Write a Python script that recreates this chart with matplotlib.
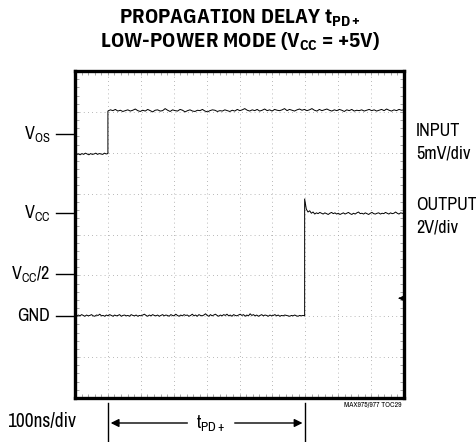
import numpy as np
import matplotlib.pyplot as plt
import matplotlib.transforms as mtransforms

plt.rcParams["font.family"] = ["Archivo Narrow", "Liberation Sans", "DejaVu Sans"]
plt.rcParams["mathtext.fontset"] = "custom"
plt.rcParams["mathtext.rm"] = "Archivo Narrow"
plt.rcParams["mathtext.bf"] = "IBM Plex Sans Condensed:bold"
plt.rcParams["mathtext.it"] = "Archivo Narrow:italic"
TITLE_FONT = ["IBM Plex Sans Condensed", "Barlow Condensed", "Liberation Sans"]

# scope screen: 10 x 8 divisions
n_xdiv = 10
n_ydiv = 8

# input trace (divisions), step at t = 1.0 div
in_step = 1.0
in_low = [5.98, 5.96, 5.97, 5.95, 5.98, 5.96, 5.99, 5.97, 5.95, 5.98,
          5.96, 5.97, 5.99, 5.96, 5.98, 5.97, 5.96, 5.99, 5.97, 5.98]
in_high = [7.02, 7.05, 7.03, 7.06, 7.02, 7.04, 7.01, 7.03, 7.05, 7.02,
           7.04, 7.07, 7.03, 7.01, 7.04, 7.02, 7.06, 7.03, 7.00, 7.04,
           7.05, 7.02, 7.03, 7.08, 7.04, 7.01, 7.05, 7.03, 7.02, 7.06,
           7.04, 7.00, 7.03, 7.05, 7.02, 7.01, 7.04, 7.03, 7.06, 7.02,
           7.00, 7.03, 7.05, 7.04, 7.01, 7.03, 7.02, 7.05, 7.03, 7.01,
           7.04, 7.02, 7.06, 7.03, 7.05, 7.08, 7.04, 7.02, 7.05, 7.03,
           7.06, 7.02, 7.04, 7.07, 7.03, 7.05, 7.02, 7.06, 7.04, 7.03,
           7.05, 7.08, 7.03, 7.06, 7.04, 7.02, 7.05, 7.07, 7.04, 7.06,
           7.03, 7.05, 7.08, 7.04, 7.02, 7.06, 7.03, 7.05, 7.07, 7.04,
           7.02, 7.05, 7.03, 7.06, 7.04, 7.01, 7.05, 7.03, 7.06, 7.02,
           7.04, 7.03, 7.05, 7.02, 7.04, 7.06, 7.03, 7.05, 7.02, 7.04,
           7.06, 7.03, 7.07, 7.04, 7.02, 7.05, 7.03, 7.06, 7.04, 7.05]

# output trace (divisions), step at t = 7.0 div
out_step = 6.98
out_low = [2.02, 2.00, 2.03, 2.01, 2.04, 2.02, 2.00, 2.03, 2.01, 2.02,
           2.04, 2.01, 2.00, 2.03, 2.02, 2.05, 2.01, 2.02, 2.00, 2.03,
           2.01, 2.04, 2.02, 2.00, 2.03, 2.01, 2.02, 2.04, 2.00, 2.02,
           2.03, 2.01, 2.02, 2.00, 2.04, 2.02, 2.01, 2.03, 2.00, 2.02,
           2.01, 2.03, 2.05, 2.02, 2.00, 2.03, 2.01, 2.04, 2.02, 2.01,
           2.03, 2.00, 2.02, 2.04, 2.01, 2.03, 2.02, 2.00, 2.04, 2.02,
           2.01, 2.05, 2.02, 2.00, 2.03, 2.01, 2.04, 2.02, 2.03, 2.00,
           2.02, 2.05, 2.01, 2.03, 2.00, 2.04, 2.02, 2.01, 2.03, 2.06,
           2.02, 2.00, 2.04, 2.01, 2.03, 2.05, 2.02, 2.00, 2.03, 2.01,
           2.04, 2.02, 2.05, 2.01, 2.03, 2.00, 2.04, 2.02, 2.01, 2.03,
           2.05, 2.02, 2.04, 2.00, 2.03, 2.01, 2.06, 2.02, 2.04, 2.01,
           2.03, 2.00, 2.02, 2.04, 2.01, 2.03, 2.02, 2.00, 2.03, 2.01,
           2.02, 2.04, 2.01, 2.03, 2.00, 2.02, 2.01, 2.03, 2.02, 2.01,
           2.00, 2.02, 2.01, 2.03, 2.01, 2.00, 2.02, 2.01, 2.02, 2.01]
out_high = [4.87, 4.62, 4.55, 4.58, 4.52, 4.55, 4.50, 4.53, 4.51, 4.54,
            4.52, 4.50, 4.53, 4.51, 4.49, 4.52, 4.54, 4.51, 4.53, 4.50,
            4.52, 4.49, 4.51, 4.53, 4.50, 4.52, 4.54, 4.51, 4.49, 4.52,
            4.50, 4.53, 4.55, 4.51, 4.52, 4.50, 4.53, 4.51, 4.49, 4.52,
            4.54, 4.51, 4.50, 4.52, 4.53, 4.50, 4.52, 4.51, 4.54, 4.52,
            4.50, 4.53, 4.51, 4.52, 4.55, 4.52, 4.50, 4.53, 4.52, 4.51]

# left-side level markers (divisions)
marker_labels = [r"V$_{\mathrm{OS}}$", r"V$_{\mathrm{CC}}$", r"V$_{\mathrm{CC}}$/2", "GND"]
marker_levels = [6.45, 4.52, 3.03, 2.0]

# right-side channel labels
chan_labels = ["INPUT", "5mV/div", "OUTPUT", "2V/div"]
chan_levels = [6.53, 5.99, 4.72, 4.18]

ground_mark = 2.44
tpd_start = 1.0
tpd_end = 7.0


def trace(lo, hi, t_step):
    t_lo = np.linspace(0, t_step, len(lo))
    t_hi = np.linspace(t_step, n_xdiv, len(hi))
    return np.concatenate([t_lo, t_hi]), np.concatenate([lo, hi])


fig = plt.figure(figsize=(4.77, 4.42), dpi=100)
ax = fig.add_axes([75 / 477, 1 - 398 / 442, 329 / 477, 327 / 442])
ax.set_xlim(0, n_xdiv)
ax.set_ylim(0, n_ydiv)

for i in range(1, n_xdiv):
    ax.axvline(i, color="#a0a0a0", lw=0.6, ls=(0, (1, 4)), zorder=1)
for j in range(1, n_ydiv):
    ax.axhline(j, color="#a0a0a0", lw=0.6, ls=(0, (1, 4)), zorder=1)

ax.set_xticks(np.arange(0, n_xdiv + 0.01, 0.2))
ax.set_yticks(np.arange(0, n_ydiv + 0.01, 0.2))
ax.set_xticklabels([])
ax.set_yticklabels([])
ax.tick_params(direction="in", length=3, width=0.6, color="#999999",
               top=True, right=True)
for s in ax.spines.values():
    s.set_linewidth(2.4)

tx, ty = trace(in_low, in_high, in_step)
ax.plot(tx, ty, color="black", lw=0.7, zorder=3)
tx, ty = trace(out_low, out_high, out_step)
ax.plot(tx, ty, color="black", lw=0.7, zorder=3)

ax.annotate("", xy=(9.74, ground_mark), xytext=(9.95, ground_mark),
            arrowprops=dict(arrowstyle="-|>", color="black", lw=0.9,
                            mutation_scale=7))

# left markers
ytr = mtransforms.blended_transform_factory(ax.transAxes, ax.transData)
for lab, lev in zip(marker_labels, marker_levels):
    ax.plot([-0.058, 0], [lev, lev], color="black", lw=1.0,
            transform=ytr, clip_on=False)
    ax.text(-0.076, lev, lab, transform=ytr, ha="right", va="center",
            fontsize=13)

for lab, lev in zip(chan_labels, chan_levels):
    ax.text(1.036, lev, lab, transform=ytr, ha="left", va="center",
            fontsize=13)

# tPD+ dimension below the screen
xtr = mtransforms.blended_transform_factory(ax.transData, fig.transFigure)
for xv in [tpd_start, tpd_end]:
    ax.plot([xv, xv], [0, 1 - 403 / 442], color="black", lw=1.0,
            transform=xtr, clip_on=False)
ay = 1 - 423 / 442
ax.annotate("", xy=(tpd_start, ay), xytext=(3.5, ay), xycoords=xtr,
            textcoords=xtr, arrowprops=dict(arrowstyle="-|>", color="black",
                                            lw=1.0, mutation_scale=12))
ax.annotate("", xy=(tpd_end, ay), xytext=(4.77, ay), xycoords=xtr,
            textcoords=xtr, arrowprops=dict(arrowstyle="-|>", color="black",
                                            lw=1.0, mutation_scale=12))
ax.text(4.13, ay, r"t$_{\mathrm{PD+}}$", transform=xtr, ha="center",
        va="center", fontsize=13.5)

fig.text(7 / 477, 1 - 422 / 442, "100ns/div", ha="left", va="center",
         fontsize=14)
fig.text(402 / 477, 1 - 405 / 442, "MAX975/977 TOC29", ha="right",
         va="center", fontsize=5.5)

fig.text(0.503, 1 - 24 / 442, r"PROPAGATION DELAY t$_{\mathbf{PD+}}$",
         ha="center", va="baseline", fontsize=15, fontweight="bold",
         family=TITLE_FONT)
fig.text(0.503, 1 - 48 / 442, r"LOW-POWER MODE (V$_{\mathbf{CC}}$ = +5V)",
         ha="center", va="baseline", fontsize=15, fontweight="bold",
         family=TITLE_FONT)

fig.savefig("out.png", dpi=100)
